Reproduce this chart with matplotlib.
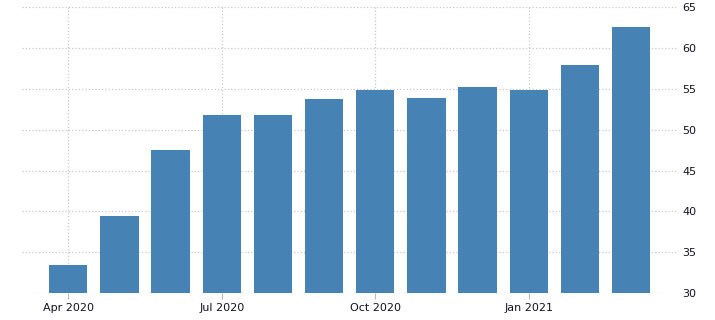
import numpy as np
import matplotlib
matplotlib.use('Agg')
import matplotlib.pyplot as plt

#data
months = ['Apr 2020', 'May 2020', 'Jun 2020', 'Jul 2020', 'Aug 2020', 'Sep 2020',
          'Oct 2020', 'Nov 2020', 'Dec 2020', 'Jan 2021', 'Feb 2021', 'Mar 2021']
values = [33.4, 39.4, 47.5, 51.8, 51.8, 53.75, 54.9, 53.9, 55.2, 54.9, 57.9, 62.6]
tick_idx = [0, 3, 6, 9]
yticks = [30, 35, 40, 45, 50, 55, 60, 65]

#figure
fig = plt.figure(figsize=(7.15, 3.2), dpi=100)
ax = fig.add_axes([0.031, 0.084, 0.916, 0.894])

x = np.arange(len(values))
ax.bar(x, values, width=0.75, color='#4682b4', zorder=2)

#axes limits and ticks
ax.set_xlim(-0.9, 11.9)
ax.set_ylim(30, 65)
ax.set_xticks(tick_idx)
ax.set_xticklabels([months[i] for i in tick_idx], fontsize=8, color='#111122')
ax.set_yticks(yticks)
ax.set_yticklabels([str(v) for v in yticks], fontsize=8, color='#111122')
ax.yaxis.tick_right()
ax.tick_params(axis='y', length=0, pad=4)
ax.tick_params(axis='x', length=4, color='#bbbbbb', pad=3)

#grid
ax.grid(color='#c8c8c8', linestyle=':', linewidth=0.9, zorder=0)
ax.set_axisbelow(True)
for s in ax.spines.values():
    s.set_visible(False)

fig.savefig('out.png', dpi=100)
